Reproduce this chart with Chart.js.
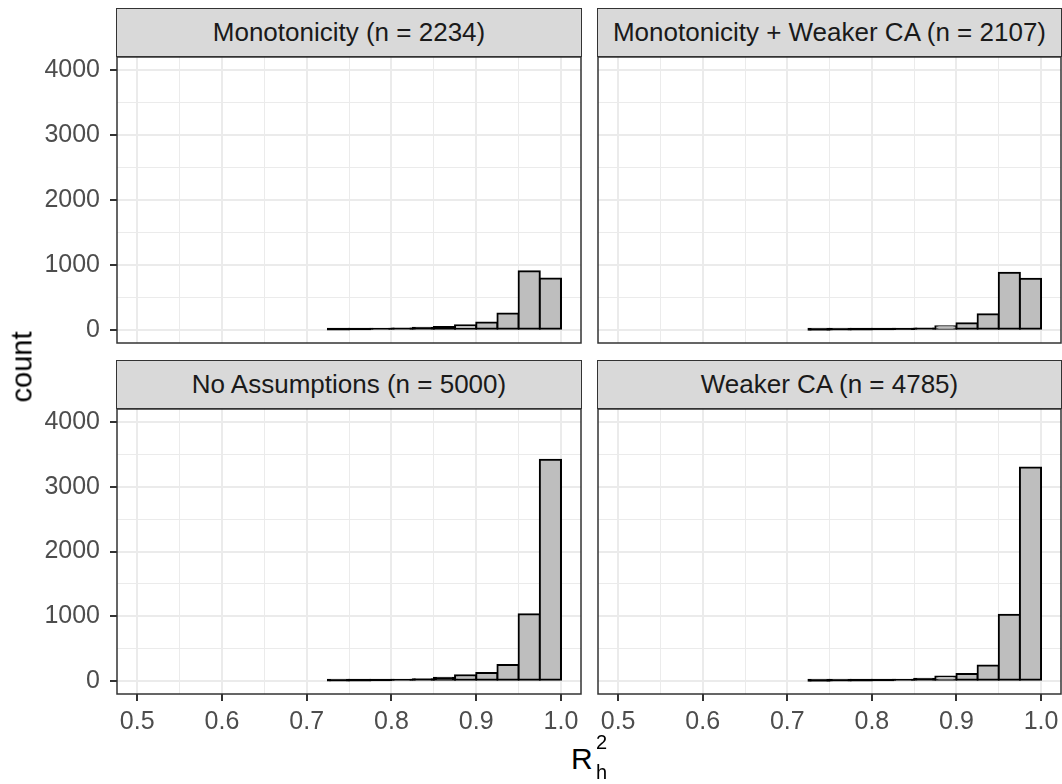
<!DOCTYPE html>
<html>

<head>
    <meta charset="utf-8" />
    <title>R2 histograms by assumption</title>

    <!-- chart library -->
    <script src="https://cdn.jsdelivr.net/npm/chart.js"></script>

    <style>
        body { margin: 0; background: #fff; font-family: "Liberation Sans", Arial, sans-serif; }
        #wrap { position: relative; width: 1062px; height: 784px; overflow: hidden; }
        canvas { position: absolute; }
        .strip {
            position: absolute; box-sizing: border-box; height: 49px;
            background: #D9D9D9; border: 1.5px solid #333;
            display: flex; align-items: center; justify-content: center;
            font-size: 26px; color: #1A1A1A;
        }
        .title { position: absolute; color: #000; white-space: nowrap; line-height: 1; }
    </style>
</head>

<body>
    <div id="wrap">
        <!-- facet strips -->
        <div class="strip" style="left:116px; top:8px; width:466px;">Monotonicity (n = 2234)</div>
        <div class="strip" style="left:597px; top:8px; width:465px;">Monotonicity + Weaker CA (n = 2107)</div>
        <div class="strip" style="left:116px; top:360px; width:466px;">No Assumptions (n = 5000)</div>
        <div class="strip" style="left:597px; top:360px; width:465px;">Weaker CA (n = 4785)</div>

        <!-- panels -->
        <canvas id="p1" width="582" height="288" style="left:0px; top:56px;"></canvas>
        <canvas id="p2" width="465" height="288" style="left:597px; top:56px;"></canvas>
        <canvas id="p3" width="582" height="332" style="left:0px; top:408px;"></canvas>
        <canvas id="p4" width="465" height="332" style="left:597px; top:408px;"></canvas>

        <!-- axis titles -->
        <div class="title" style="left:22px; top:367px; font-size:29px; transform:translate(-50%,-50%) rotate(-90deg);">count</div>
        <div class="title" style="left:571px; top:744px; font-size:30px;">R</div>
        <div class="title" style="left:596px; top:732px; font-size:20px;">2</div>
        <div class="title" style="left:596px; top:762px; font-size:20px;">h</div>
    </div>

    <script type="text/javascript">

        // bin centres (bin width 0.025)
        const binCenters = [0.7375, 0.7625, 0.7875, 0.8125, 0.8375, 0.8625, 0.8875, 0.9125, 0.9375, 0.9625, 0.9875];

        // counts per bin
        const monoCounts = [3, 6, 15, 20, 30, 40, 70, 110, 250, 900, 790];
        const monoWeakCounts = [1, 2, 4, 8, 12, 20, 55, 100, 240, 880, 785];
        const noAssumpCounts = [2, 4, 9, 15, 25, 45, 85, 120, 245, 1030, 3420];
        const weakCounts = [1, 2, 4, 8, 15, 30, 65, 105, 235, 1020, 3300];

        // tick / grid values
        const xMajor = [0.5, 0.6, 0.7, 0.8, 0.9, 1.0];
        const xMinor = [0.55, 0.65, 0.75, 0.85, 0.95];
        const yMajor = [0, 1000, 2000, 3000, 4000];
        const yMinor = [500, 1500, 2500, 3500];

        const xMin = 0.4762, xMax = 1.0236;
        const yMin = -205, yMax = 4205;

        const tickFont = { family: '"Liberation Sans", Arial, sans-serif', size: 25 };

        const near = (v, list) => list.some(m => Math.abs(m - v) < 1e-6);
        const isMajor = (c, list) => !!(c.tick && near(c.tick.value, list));
        const asTicks = list => list.slice().sort((a, b) => a - b).map(v => ({ value: v }));

        // very short bars are all outline in the original, so fill them black
        const barFill = c => {
            const y = c.chart.scales.y;
            if (!y || !c.raw) return '#BEBEBE';
            const h = y.getPixelForValue(0) - y.getPixelForValue(c.raw.y);
            return h < 3.2 ? '#000000' : '#BEBEBE';
        };

        // draws the dark frame round each panel
        const frame = {
            id: 'frame',
            afterDraw(chart) {
                const a = chart.chartArea, ctx = chart.ctx;
                ctx.save();
                ctx.strokeStyle = '#333333';
                ctx.lineWidth = 1.5;
                ctx.strokeRect(a.left, a.top, a.right - a.left, a.bottom - a.top);
                ctx.restore();
            }
        };

        const makePanel = (id, counts, showY, showX) => {
            const points = binCenters.map((x, i) => ({ x: x, y: counts[i] }));

            return new Chart(document.getElementById(id), {
                type: 'bar',
                data: {
                    datasets: [{
                        data: points,
                        backgroundColor: barFill,
                        borderColor: '#000000',
                        borderWidth: 2,
                        borderSkipped: false,
                        inflateAmount: 1,
                        barPercentage: 1,
                        categoryPercentage: 1
                    }]
                },
                options: {
                    responsive: false,
                    animation: false,
                    layout: { padding: { top: 1, bottom: showX ? 0 : 1, left: showY ? 0 : 1, right: 1 } },
                    plugins: { legend: { display: false }, tooltip: { enabled: false } },
                    scales: {
                        x: {
                            type: 'linear', min: xMin, max: xMax, offset: false,
                            afterBuildTicks: s => { s.ticks = asTicks(xMajor.concat(xMinor)); },
                            afterFit: s => {
                                s.height = showX ? 46 : 0;
                                s.paddingLeft = 0; s.paddingRight = 0;
                            },
                            border: { display: false },
                            grid: {
                                offset: false,
                                color: '#EBEBEB',
                                lineWidth: c => isMajor(c, xMajor) ? 2 : 1,
                                drawTicks: showX,
                                tickLength: 7,
                                tickWidth: 2,
                                tickColor: c => isMajor(c, xMajor) ? '#333333' : 'rgba(0,0,0,0)'
                            },
                            ticks: {
                                display: showX, autoSkip: false, maxRotation: 0, padding: 6,
                                color: '#4D4D4D', font: tickFont,
                                callback: v => near(v, xMajor) ? v.toFixed(1) : ''
                            }
                        },
                        y: {
                            type: 'linear', min: yMin, max: yMax,
                            afterBuildTicks: s => { s.ticks = asTicks(yMajor.concat(yMinor)); },
                            afterFit: s => {
                                s.width = showY ? 117 : 0;
                                s.paddingTop = 0; s.paddingBottom = 0;
                            },
                            border: { display: false },
                            grid: {
                                color: '#EBEBEB',
                                lineWidth: c => isMajor(c, yMajor) ? 2 : 1,
                                drawTicks: showY,
                                tickLength: 7,
                                tickWidth: 2,
                                tickColor: c => isMajor(c, yMajor) ? '#333333' : 'rgba(0,0,0,0)'
                            },
                            ticks: {
                                display: showY, autoSkip: false, padding: 10,
                                color: '#4D4D4D', font: tickFont,
                                callback: v => near(v, yMajor) ? String(v) : ''
                            }
                        }
                    }
                },
                plugins: [frame]
            });
        }

        makePanel('p1', monoCounts, true, false);
        makePanel('p2', monoWeakCounts, false, false);
        makePanel('p3', noAssumpCounts, true, true);
        makePanel('p4', weakCounts, false, true);

    </script>

</body>

</html>
